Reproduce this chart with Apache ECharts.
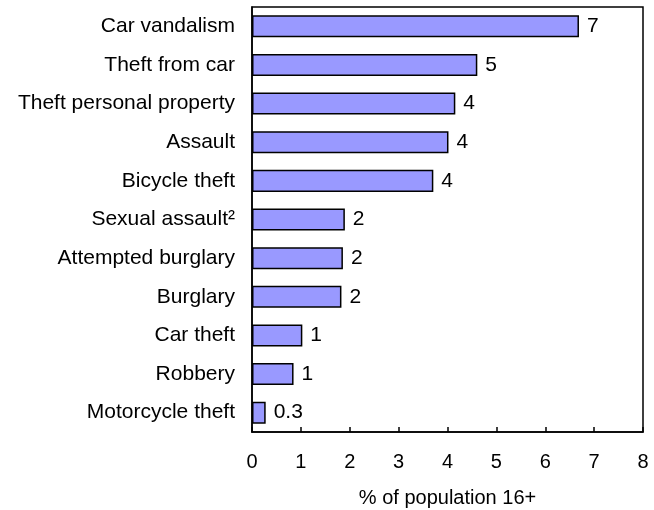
<!DOCTYPE html>
<html>
<head>
<meta charset="utf-8">
<script src="https://cdn.jsdelivr.net/npm/echarts@6/dist/echarts.min.js"></script>
<style>
  html, body { margin: 0; padding: 0; background: #fff; }
  #chart { width: 654px; height: 510px; }
</style>
</head>
<body>
<div id="chart"></div>
<script>
// categories, top to bottom
const categories = [
  "Car vandalism",
  "Theft from car",
  "Theft personal property",
  "Assault",
  "Bicycle theft",
  "Sexual assault\u00b2",
  "Attempted burglary",
  "Burglary",
  "Car theft",
  "Robbery",
  "Motorcycle theft"
];
// bar lengths
const values = [6.69, 4.61, 4.16, 4.02, 3.71, 1.9, 1.86, 1.83, 1.03, 0.85, 0.28];
// rounded labels printed next to the bars
const valueLabels = ["7", "5", "4", "4", "4", "2", "2", "2", "1", "1", "0.3"];
const xTicks = [0, 1, 2, 3, 4, 5, 6, 7, 8];

const font = "Liberation Sans, Arial, sans-serif";

const chart = echarts.init(document.getElementById("chart"));
chart.setOption({
  animation: false,
  grid: {
    left: 252,
    right: 11,
    top: 7,
    bottom: 78,
    show: true,
    borderColor: "#000",
    borderWidth: 1.5,
    containLabel: false,
    outerBoundsMode: "none"
  },
  xAxis: {
    type: "value",
    min: xTicks[0],
    max: xTicks[xTicks.length - 1],
    interval: 1,
    name: "% of population 16+",
    nameLocation: "middle",
    nameGap: 56,
    nameTextStyle: { color: "#000", fontSize: 20, fontFamily: font },
    axisLine: { show: true, lineStyle: { color: "#000", width: 1.5 } },
    axisTick: { show: true, inside: true, length: 5, lineStyle: { color: "#000", width: 1.5 } },
    axisLabel: { color: "#000", fontSize: 20, fontFamily: font, margin: 20 },
    splitLine: { show: false }
  },
  yAxis: {
    type: "category",
    data: categories,
    inverse: true,
    axisLine: { show: true, lineStyle: { color: "#000", width: 1.5 } },
    axisTick: { show: false },
    axisLabel: { color: "#000", fontSize: 21, fontFamily: font, margin: 17 }
  },
  series: [{
    type: "bar",
    data: values,
    barWidth: "57%",
    itemStyle: { color: "#9999ff", borderColor: "#000", borderWidth: 1.5 },
    label: {
      show: true,
      position: "right",
      distance: 8,
      color: "#000",
      fontSize: 21,
      fontFamily: font,
      formatter: p => valueLabels[p.dataIndex]
    }
  }]
});
</script>
</body>
</html>
